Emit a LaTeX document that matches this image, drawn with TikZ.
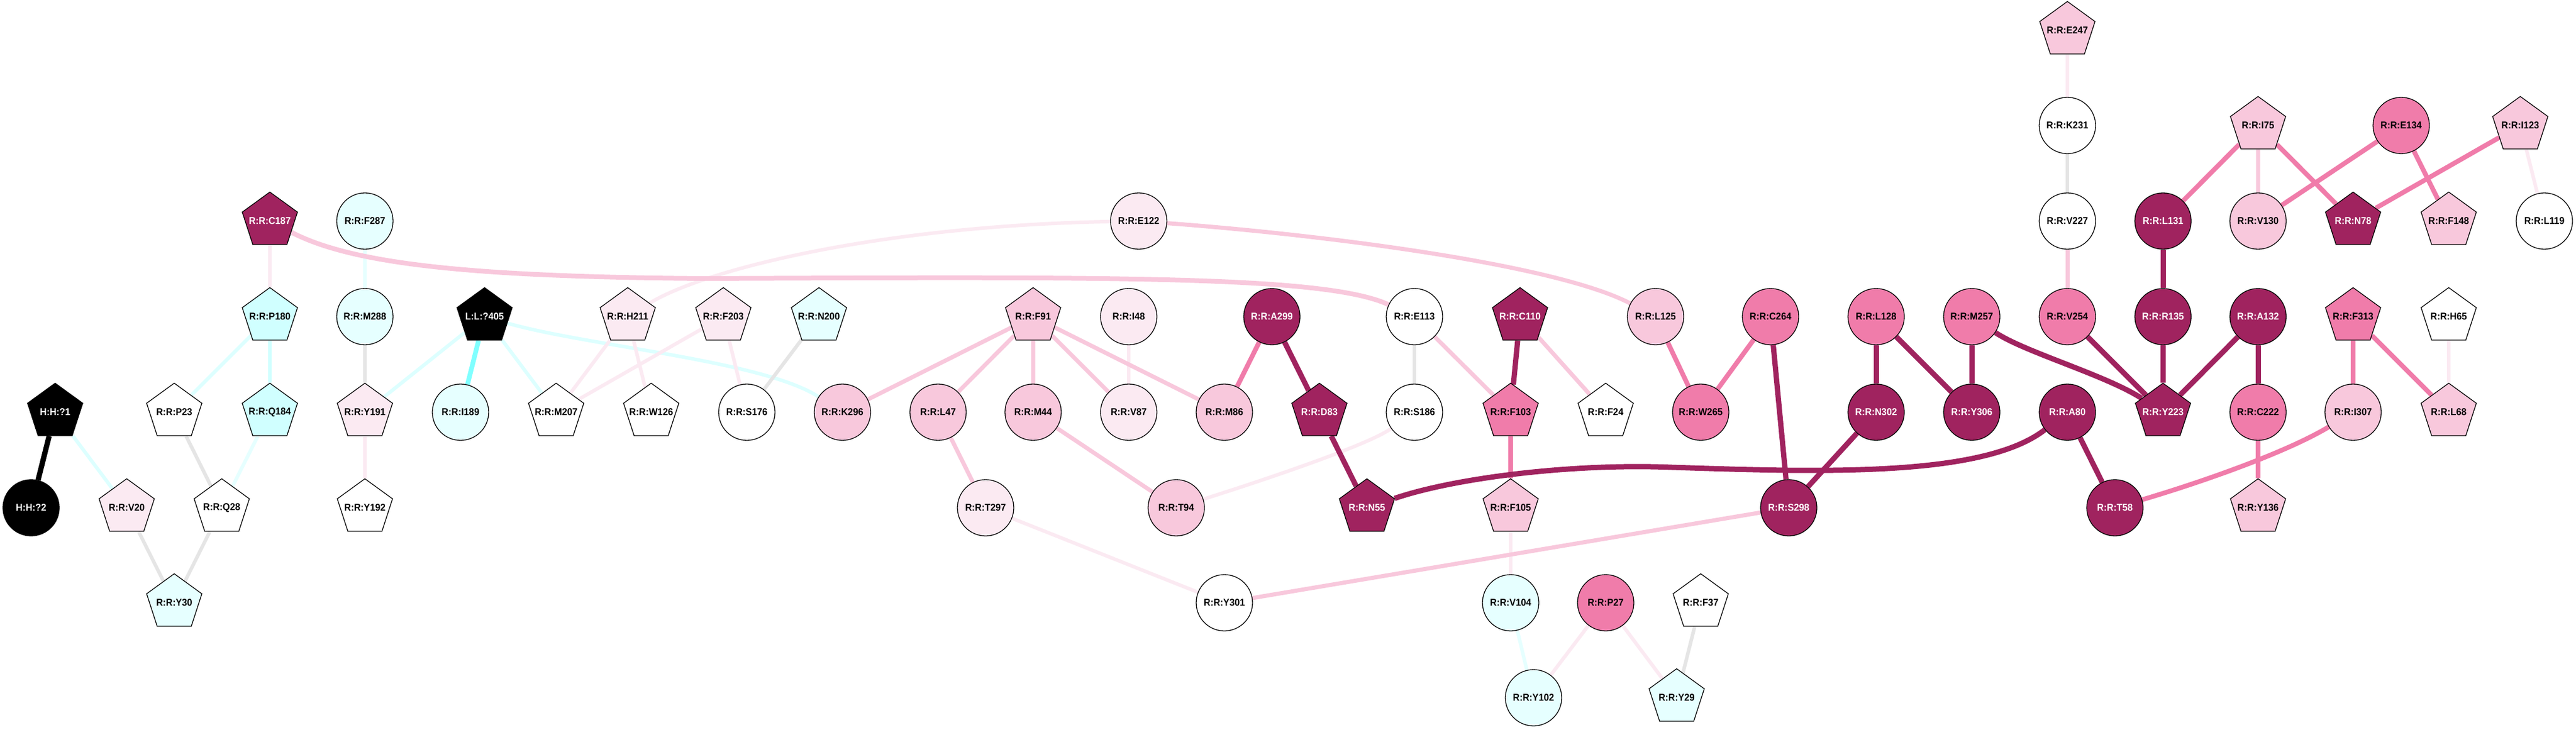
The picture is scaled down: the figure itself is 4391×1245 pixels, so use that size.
\documentclass[tikz,border=0pt]{standalone}
\usepackage{fontspec}
\newfontfamily\nf{Liberation Sans}[FakeStretch=0.93]
\usetikzlibrary{shapes.geometric,backgrounds}
\definecolor{cD}{HTML}{A0235F}
\definecolor{cM}{HTML}{F07CAA}
\definecolor{cP}{HTML}{F8C8DC}
\definecolor{cLP}{HTML}{FBEAF2}
\definecolor{cC}{HTML}{E6FFFF}
\definecolor{cCC}{HTML}{D0FFFF}
\definecolor{cG}{HTML}{E5E5E5}
\definecolor{eCl}{HTML}{DDFFFF}
\definecolor{eCs}{HTML}{80FFFF}
\tikzset{
  nd/.style={draw=black, line width=1.3pt, inner sep=0pt, font=\nf\bfseries\fontsize{17}{17}\selectfont},
  pent/.style={nd, regular polygon, regular polygon sides=5, minimum size=99pt, inner xsep=-30pt},
  circ/.style={nd, circle, minimum size=96pt},
  fW/.style={fill=white, text=black},
  fLP/.style={fill=cLP, text=black},
  fP/.style={fill=cP, text=black},
  fM/.style={fill=cM, text=black},
  fD/.style={fill=cD, text=white},
  fK/.style={fill=black, text=white},
  fC/.style={fill=cC, text=black},
  fCC/.style={fill=cCC, text=black},
  eD/.style={draw=cD, line width=9pt},
  eM/.style={draw=cM, line width=8pt},
  eP/.style={draw=cP, line width=7pt},
  eLP/.style={draw=cLP, line width=6pt},
  eG/.style={draw=cG, line width=6pt},
  eC/.style={draw=eCl, line width=6pt},
  eCC/.style={draw=eCs, line width=8pt},
  eK/.style={draw=black, line width=9pt}
}
\begin{document}
\begin{tikzpicture}[x=1pt,y=-1pt]
\useasboundingbox (0,0) rectangle (4391,1245);
% nodes
\node[pent,fK] (h1) at (94,703) {H:H:?1};
\node[circ,fK] (h2) at (53,866) {H:H:?2};
\node[pent,fLP] (v20) at (216,866) {R:R:V20};
\node[pent,fW] (p23) at (297,703) {R:R:P23};
\node[pent,fW] (q28) at (378,866) {R:R:Q28};
\node[pent,fC] (y30) at (297,1028) {R:R:Y30};
\node[pent,fD] (c187) at (460,377) {R:R:C187};
\node[pent,fCC] (p180) at (460,540) {R:R:P180};
\node[pent,fCC] (q184) at (460,703) {R:R:Q184};
\node[circ,fC] (f287) at (622,377) {R:R:F287};
\node[circ,fC] (m288) at (622,540) {R:R:M288};
\node[pent,fLP] (y191) at (622,703) {R:R:Y191};
\node[pent,fW] (y192) at (622,866) {R:R:Y192};
\node[pent,fK] (l405) at (826,540) {L:L:?405};
\node[circ,fC] (i189) at (785,703) {R:R:I189};
\node[pent,fW] (m207) at (948,703) {R:R:M207};
\node[pent,fLP] (h211) at (1070,540) {R:R:H211};
\node[pent,fW] (w126) at (1110,703) {R:R:W126};
\node[pent,fLP] (f203) at (1233,540) {R:R:F203};
\node[circ,fW] (s176) at (1273,703) {R:R:S176};
\node[pent,fC] (n200) at (1396,540) {R:R:N200};
\node[circ,fP] (k296) at (1436,703) {R:R:K296};
\node[circ,fLP] (e122) at (1941,377) {R:R:E122};
\node[pent,fP] (f91) at (1761,540) {R:R:F91};
\node[circ,fLP] (i48) at (1924,540) {R:R:I48};
\node[circ,fP] (l47) at (1599,703) {R:R:L47};
\node[circ,fP] (m44) at (1761,703) {R:R:M44};
\node[circ,fLP] (v87) at (1924,703) {R:R:V87};
\node[circ,fP] (m86) at (2087,703) {R:R:M86};
\node[circ,fLP] (t297) at (1680,866) {R:R:T297};
\node[circ,fP] (t94) at (2005,866) {R:R:T94};
\node[circ,fW] (y301) at (2087,1028) {R:R:Y301};
\node[circ,fD] (a299) at (2168,540) {R:R:A299};
\node[pent,fD] (d83) at (2249,703) {R:R:D83};
\node[pent,fD] (n55) at (2330,866) {R:R:N55};
\node[circ,fW] (e113) at (2411,540) {R:R:E113};
\node[circ,fW] (s186) at (2411,703) {R:R:S186};
\node[pent,fD] (c110) at (2591,540) {R:R:C110};
\node[pent,fM] (f103) at (2575,703) {R:R:F103};
\node[pent,fW] (f24) at (2737,703) {R:R:F24};
\node[pent,fP] (f105) at (2575,866) {R:R:F105};
\node[circ,fC] (v104) at (2575,1028) {R:R:V104};
\node[circ,fC] (y102) at (2614,1190) {R:R:Y102};
\node[circ,fM] (p27) at (2737,1028) {R:R:P27};
\node[pent,fW] (f37) at (2899,1028) {R:R:F37};
\node[pent,fC] (y29) at (2858,1190) {R:R:Y29};
\node[circ,fP] (l125) at (2822,540) {R:R:L125};
\node[circ,fM] (w265) at (2899,703) {R:R:W265};
\node[circ,fM] (c264) at (3018,540) {R:R:C264};
\node[circ,fD] (s298) at (3049,866) {R:R:S298};
\node[circ,fM] (l128) at (3198,540) {R:R:L128};
\node[circ,fD] (n302) at (3198,703) {R:R:N302};
\node[circ,fM] (m257) at (3361,540) {R:R:M257};
\node[circ,fD] (y306) at (3361,703) {R:R:Y306};
\node[pent,fP] (e247) at (3524,52) {R:R:E247};
\node[circ,fW] (k231) at (3524,214) {R:R:K231};
\node[circ,fW] (v227) at (3524,377) {R:R:V227};
\node[circ,fM] (v254) at (3524,540) {R:R:V254};
\node[circ,fD] (a80) at (3524,703) {R:R:A80};
\node[circ,fD] (t58) at (3605,866) {R:R:T58};
\node[circ,fD] (l131) at (3687,377) {R:R:L131};
\node[circ,fD] (r135) at (3687,540) {R:R:R135};
\node[pent,fD] (y223) at (3687,703) {R:R:Y223};
\node[pent,fP] (i75) at (3849,214) {R:R:I75};
\node[circ,fP] (v130) at (3849,377) {R:R:V130};
\node[circ,fD] (a132) at (3849,540) {R:R:A132};
\node[circ,fM] (c222) at (3849,703) {R:R:C222};
\node[pent,fP] (y136) at (3849,866) {R:R:Y136};
\node[circ,fM] (e134) at (4093,214) {R:R:E134};
\node[pent,fD] (n78) at (4011,377) {R:R:N78};
\node[pent,fM] (f313) at (4011,540) {R:R:F313};
\node[circ,fP] (i307) at (4011,703) {R:R:I307};
\node[pent,fP] (f148) at (4174,377) {R:R:F148};
\node[pent,fW] (h65) at (4174,540) {R:R:H65};
\node[pent,fP] (l68) at (4174,703) {R:R:L68};
\node[pent,fP] (i123) at (4296,214) {R:R:I123};
\node[circ,fW] (l119) at (4337,377) {R:R:L119};
% edges
\begin{pgfonlayer}{background}
\fill[white] (0,0) rectangle (4391,1245);
\draw[eK] (h1) -- (h2);
\draw[eC] (h1) -- (v20);
\draw[eC] (p23) -- (p180);
\draw[eC,draw=cCC] (p180) -- (q184);
\draw[eC,draw=cC] (q184) -- (q28);
\draw[eC,draw=cC] (f287) -- (m288);
\draw[eC] (y191) -- (l405);
\draw[eC] (l405) -- (m207);
\draw[eC] (l405) .. controls (1000,590) and (1300,615) .. (k296);
\draw[eC,draw=cC] (v104) -- (y102);
\draw[eCC] (l405) -- (i189);
\draw[eG] (p23) -- (q28);
\draw[eG] (v20) -- (y30);
\draw[eG] (q28) -- (y30);
\draw[eG] (m288) -- (y191);
\draw[eG] (n200) -- (s176);
\draw[eG] (e113) -- (s186);
\draw[eG] (f37) -- (y29);
\draw[eG] (k231) -- (v227);
\draw[eLP] (c187) -- (p180);
\draw[eLP] (y191) -- (y192);
\draw[eLP] (h211) -- (m207);
\draw[eLP] (h211) -- (w126);
\draw[eLP] (h211) .. controls (1200,460) and (1500,385) .. (e122);
\draw[eLP] (f203) -- (m207);
\draw[eLP] (f203) -- (s176);
\draw[eLP] (i48) -- (v87);
\draw[eLP] (t94) .. controls (2150,820) and (2330,760) .. (s186);
\draw[eLP] (t297) -- (y301);
\draw[eLP] (f105) -- (v104);
\draw[eLP] (p27) -- (y102);
\draw[eLP] (p27) -- (y29);
\draw[eLP] (h65) -- (l68);
\draw[eLP] (e247) -- (k231);
\draw[eLP] (i123) -- (l119);
\draw[eP,line width=8pt] (c187) .. controls (600,450) and (800,472) .. (1200,475) .. controls (1900,472) and (2260,470) .. (e113);
\draw[eP] (e122) .. controls (2250,400) and (2650,450) .. (l125);
\draw[eP] (f91) -- (k296);
\draw[eP] (f91) -- (l47);
\draw[eP] (f91) -- (m44);
\draw[eP] (f91) -- (v87);
\draw[eP] (f91) -- (m86);
\draw[eP] (l47) -- (t297);
\draw[eP] (m44) -- (t94);
\draw[eP] (y301) -- (s298);
\draw[eP] (e113) -- (f103);
\draw[eP] (c110) -- (f24);
\draw[eP] (v227) -- (v254);
\draw[eP] (i75) -- (v130);
\draw[eM] (a299) -- (m86);
\draw[eM] (f103) -- (f105);
\draw[eM] (l125) -- (w265);
\draw[eM] (c264) -- (w265);
\draw[eM] (c222) -- (y136);
\draw[eM] (i307) .. controls (3900,770) and (3760,820) .. (t58);
\draw[eM] (f313) -- (i307);
\draw[eM] (f313) -- (l68);
\draw[eM] (i75) -- (l131);
\draw[eM] (i75) -- (n78);
\draw[eM] (e134) -- (v130);
\draw[eM] (e134) -- (f148);
\draw[eM] (i123) -- (n78);
\draw[eD] (a299) -- (d83);
\draw[eD] (d83) -- (n55);
\draw[eD] (n55) .. controls (2480,815) and (2680,790) .. (2850,797) .. controls (3100,805) and (3380,815) .. (a80);
\draw[eD] (c110) -- (f103);
\draw[eD] (c264) -- (s298);
\draw[eD] (l128) -- (n302);
\draw[eD] (l128) -- (y306);
\draw[eD] (n302) -- (s298);
\draw[eD] (m257) -- (y306);
\draw[eD] (m257) .. controls (3450,600) and (3590,640) .. (y223);
\draw[eD] (v254) -- (y223);
\draw[eD] (r135) -- (y223);
\draw[eD] (a132) -- (y223);
\draw[eD] (a132) -- (c222);
\draw[eD] (a80) -- (t58);
\draw[eD] (l131) -- (r135);
\end{pgfonlayer}
\end{tikzpicture}
\end{document}
